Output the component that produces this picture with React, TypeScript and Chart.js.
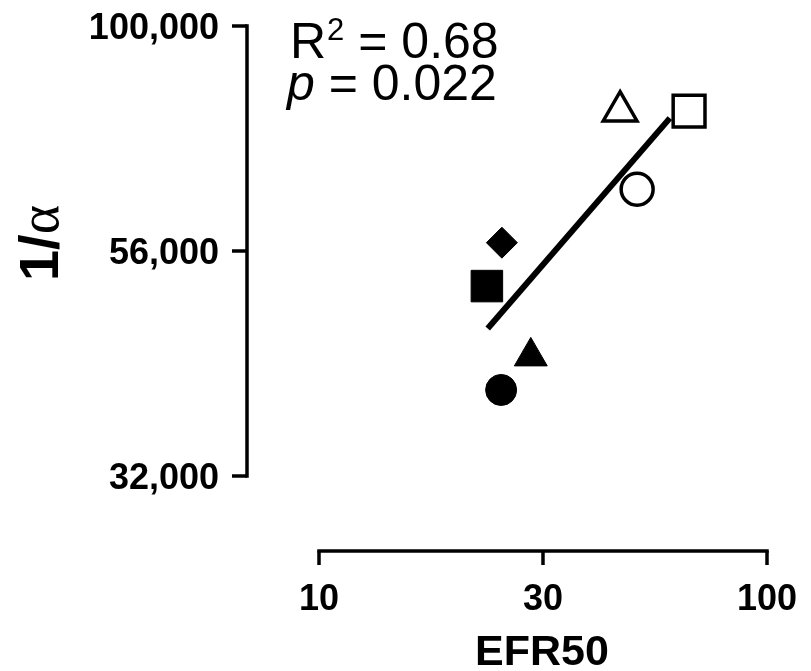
import React, { useEffect, useRef } from "react";
import { Chart, registerables } from "chart.js";

Chart.register(...registerables);

// ---- data ----
const efr50 = [25.5, 29.7, 23.7, 25.6, 51.3, 47.0, 67.0];
const invAlpha = [39790, 43320, 51760, 57770, 66150, 80600, 80600];
const markerShapes = ["circle", "triangle", "rect", "rectRot", "circle", "triangle", "rect"];
const markerFilled = [true, true, true, true, false, false, false];

const fitX = [23.8, 60.7];
const fitY = [46480, 79200];

const xTickValues = [10, 31.62, 100];
const xTickLabels = ["10", "30", "100"];
const yTickValues = [32000, 56569, 100000];
const yTickLabels = ["32,000", "56,000", "100,000"];

const xTitle = "EFR50";
const yTitleMain = "1/";
const yTitleSymbol = "α";
const statR2 = "0.68";
const statP = "0.022";

const FONT = '"Liberation Sans", Arial, Helvetica, sans-serif';

function radiusFor(shape: string, filled: boolean): number {
  if (shape === "rect") return filled ? 22.3 : 22.5;
  if (shape === "triangle") return filled ? 19 : 19.5;
  if (shape === "rectRot") return 15.5;
  return filled ? 15.5 : 16;
}

const axesPlugin = {
  id: "prismAxes",
  afterDraw(chart: any) {
    const ctx = chart.ctx as CanvasRenderingContext2D;
    const xs = chart.scales.x;
    const ys = chart.scales.y;
    ctx.save();
    ctx.strokeStyle = "#000";
    ctx.fillStyle = "#000";
    ctx.lineWidth = 3.5;
    ctx.lineCap = "butt";

    // Y axis (offset to the left)
    const yAxisX = 247;
    const yTop = ys.getPixelForValue(yTickValues[yTickValues.length - 1]);
    const yBot = ys.getPixelForValue(yTickValues[0]);
    ctx.beginPath();
    ctx.moveTo(yAxisX, yTop - 1.75);
    ctx.lineTo(yAxisX, yBot + 1.75);
    ctx.stroke();
    ctx.font = `bold 36px ${FONT}`;
    ctx.textAlign = "right";
    ctx.textBaseline = "alphabetic";
    yTickValues.forEach((v, i) => {
      const py = ys.getPixelForValue(v);
      ctx.beginPath();
      ctx.moveTo(yAxisX, py);
      ctx.lineTo(yAxisX - 15, py);
      ctx.stroke();
      ctx.fillText(yTickLabels[i], 219, py + 13);
    });

    // X axis (offset below)
    const xAxisY = 551;
    const xL = xs.getPixelForValue(xTickValues[0]);
    const xR = xs.getPixelForValue(xTickValues[xTickValues.length - 1]);
    ctx.beginPath();
    ctx.moveTo(xL - 1.75, xAxisY);
    ctx.lineTo(xR + 1.75, xAxisY);
    ctx.stroke();
    ctx.textAlign = "center";
    xTickValues.forEach((v, i) => {
      const px = xs.getPixelForValue(v);
      ctx.beginPath();
      ctx.moveTo(px, xAxisY);
      ctx.lineTo(px, xAxisY + 14);
      ctx.stroke();
      ctx.fillText(xTickLabels[i], px, 610);
    });

    // X title
    ctx.font = `bold 43px ${FONT}`;
    ctx.fillText(xTitle, 542, 665);

    // Y title rotated
    ctx.save();
    ctx.translate(58, 243);
    ctx.rotate(-Math.PI / 2);
    ctx.textAlign = "left";
    const f1 = `bold 56px ${FONT}`;
    const f2 = `56px "Liberation Serif", "DejaVu Serif", serif`;
    ctx.font = f1;
    const w1 = ctx.measureText(yTitleMain).width;
    ctx.font = f2;
    const w2 = ctx.measureText(yTitleSymbol).width;
    const start = -(w1 + w2) / 2;
    ctx.font = f1;
    ctx.fillText(yTitleMain, start, 0);
    ctx.font = f2;
    ctx.fillText(yTitleSymbol, start + w1, 0);
    ctx.restore();

    // Stats text
    ctx.textAlign = "left";
    let x = 290;
    ctx.font = `50px ${FONT}`;
    ctx.fillText("R", x, 58);
    x += ctx.measureText("R").width;
    ctx.font = `31px ${FONT}`;
    ctx.fillText("2", x + 1, 40);
    x += ctx.measureText("2").width + 1;
    ctx.font = `50px ${FONT}`;
    ctx.fillText(" = " + statR2, x, 58);

    x = 287;
    ctx.font = `italic 50px ${FONT}`;
    ctx.fillText("p", x, 100);
    x += ctx.measureText("p").width;
    ctx.font = `50px ${FONT}`;
    ctx.fillText(" = " + statP, x, 100);

    ctx.restore();
  },
};

export default function App() {
  const ref = useRef<HTMLCanvasElement | null>(null);

  useEffect(() => {
    document.body.style.margin = "0";
    document.body.style.overflow = "hidden";
    const canvas = ref.current;
    if (!canvas) return;

    const points = efr50.map((x, i) => ({ x, y: invAlpha[i] }));
    const fit = fitX.map((x, i) => ({ x, y: fitY[i] }));

    const chart = new Chart(canvas, {
      type: "scatter",
      data: {
        datasets: [
          {
            data: points,
            pointStyle: markerShapes as any,
            pointRadius: markerShapes.map((s, i) => radiusFor(s, markerFilled[i])),
            pointBackgroundColor: markerFilled.map((f) => (f ? "#000" : "#fff")),
            pointBorderColor: "#000",
            pointBorderWidth: markerFilled.map((f) => (f ? 1 : 3.5)),
            showLine: false,
            clip: false as any,
            order: 0,
          },
          {
            data: fit,
            showLine: true,
            borderColor: "#000",
            borderWidth: 6,
            pointRadius: 0,
            borderCapStyle: "butt",
            clip: false as any,
            order: 1,
          },
        ],
      },
      options: {
        animation: false,
        responsive: false,
        devicePixelRatio: 1,
        layout: { padding: { left: 319, right: 44, top: 21, bottom: 195 } },
        plugins: { legend: { display: false }, tooltip: { enabled: false } },
        scales: {
          x: { type: "logarithmic", min: 10, max: 100, display: false },
          y: { type: "logarithmic", min: 32000, max: 100000, display: false },
        },
      },
      plugins: [axesPlugin],
    });

    return () => chart.destroy();
  }, []);

  return (
    <div style={{ width: 811, height: 671, background: "#fff" }}>
      <canvas ref={ref} width={811} height={671} style={{ display: "block" }} />
    </div>
  );
}
